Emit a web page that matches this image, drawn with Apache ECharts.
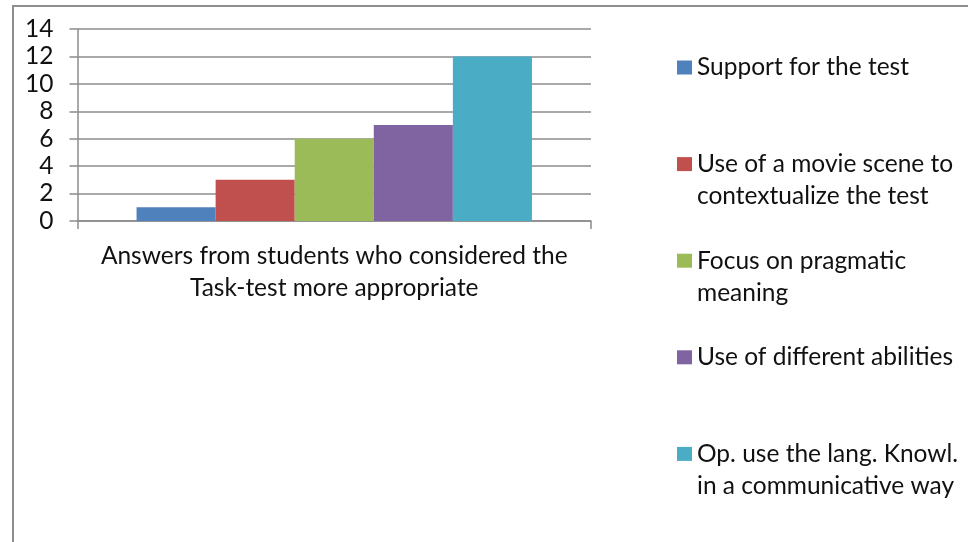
<!DOCTYPE html>
<html>
<head>
<meta charset="utf-8">
<style>
  html, body { margin: 0; padding: 0; background: #ffffff; }
  #chart { width: 968px; height: 542px; }
</style>
<script src="https://cdn.jsdelivr.net/npm/echarts@6/dist/echarts.min.js"></script>
</head>
<body>
<div id="chart"></div>
<script>
// Category shown under the x axis (one group of bars)
const categories = ['Answers from students who considered the\nTask-test more appropriate'];

// One series per answer type
const seriesNames = [
  'Support for the test',
  'Use of a movie scene to\ncontextualize the test',
  'Focus on pragmatic\nmeaning',
  'Use of different abilities',
  'Op. use the lang. Knowl.\nin a communicative way'
];
const seriesValues = [1, 3, 6, 7, 12];
const seriesColors = ['#4F81BD', '#C0504D', '#9BBB59', '#8064A2', '#4BACC6'];

// Y axis scale
const yMin = 0, yMax = 14, yStep = 2;

const FONT = 'Lato, "Open Sans", sans-serif';
const TEXT = '#111111';
const AXIS_GREY = '#8c8c8c';
const FONT_SIZE = 24.5;
const LINE_H = 32;

const chart = echarts.init(document.getElementById('chart'), null, { renderer: 'canvas' });

const series = seriesNames.map((name, i) => ({
  name: name,
  type: 'bar',
  data: [seriesValues[i]],
  itemStyle: { color: seriesColors[i] },
  barGap: '0%',
  barCategoryGap: '23%',
  emphasis: { disabled: true }
}));

// Each legend entry is three text lines tall with the entry's first line in the middle,
// so the swatch sits beside the first line and every entry has the same height.
function legendText(name) {
  const lines = name.split('\n');
  return lines.length === 1 ? '\n' + name + '\n' : '\n' + name;
}

chart.setOption({
  animation: false,
  backgroundColor: '#ffffff',
  textStyle: { fontFamily: FONT },
  grid: { left: 77.5, right: 377, top: 29, bottom: 321, containLabel: false },
  xAxis: {
    type: 'category',
    data: categories,
    axisLine: { show: true, lineStyle: { color: AXIS_GREY, width: 1.5 } },
    axisTick: { show: true, alignWithLabel: false, length: 8, lineStyle: { color: AXIS_GREY, width: 1.5 } },
    axisLabel: {
      color: TEXT, fontFamily: FONT, fontSize: FONT_SIZE, lineHeight: LINE_H,
      margin: 19, align: 'center', interval: 0
    },
    splitLine: { show: false }
  },
  yAxis: {
    type: 'value',
    min: yMin, max: yMax, interval: yStep,
    axisLine: { show: true, lineStyle: { color: AXIS_GREY, width: 1.5 } },
    axisTick: { show: true, inside: false, length: 8, lineStyle: { color: AXIS_GREY, width: 1.5 } },
    axisLabel: { color: TEXT, fontFamily: FONT, fontSize: FONT_SIZE, margin: 24 },
    splitLine: { show: true, lineStyle: { color: AXIS_GREY, width: 1.5 } }
  },
  legend: {
    orient: 'vertical',
    left: 677,
    top: 19.5,
    itemGap: 0.6,
    itemWidth: 15,
    itemHeight: 14,
    icon: 'rect',
    selectedMode: false,
    padding: 0,
    itemStyle: { borderWidth: 0 },
    formatter: legendText,
    textStyle: { color: TEXT, fontFamily: FONT, fontSize: FONT_SIZE, lineHeight: LINE_H },
    data: seriesNames
  },
  graphic: [{
    type: 'rect',
    silent: true,
    shape: { x: 13, y: 6, width: 1000, height: 1000 },
    style: { fill: 'none', stroke: '#8e8e8e', lineWidth: 2 }
  }],
  series: series
});
</script>
</body>
</html>
